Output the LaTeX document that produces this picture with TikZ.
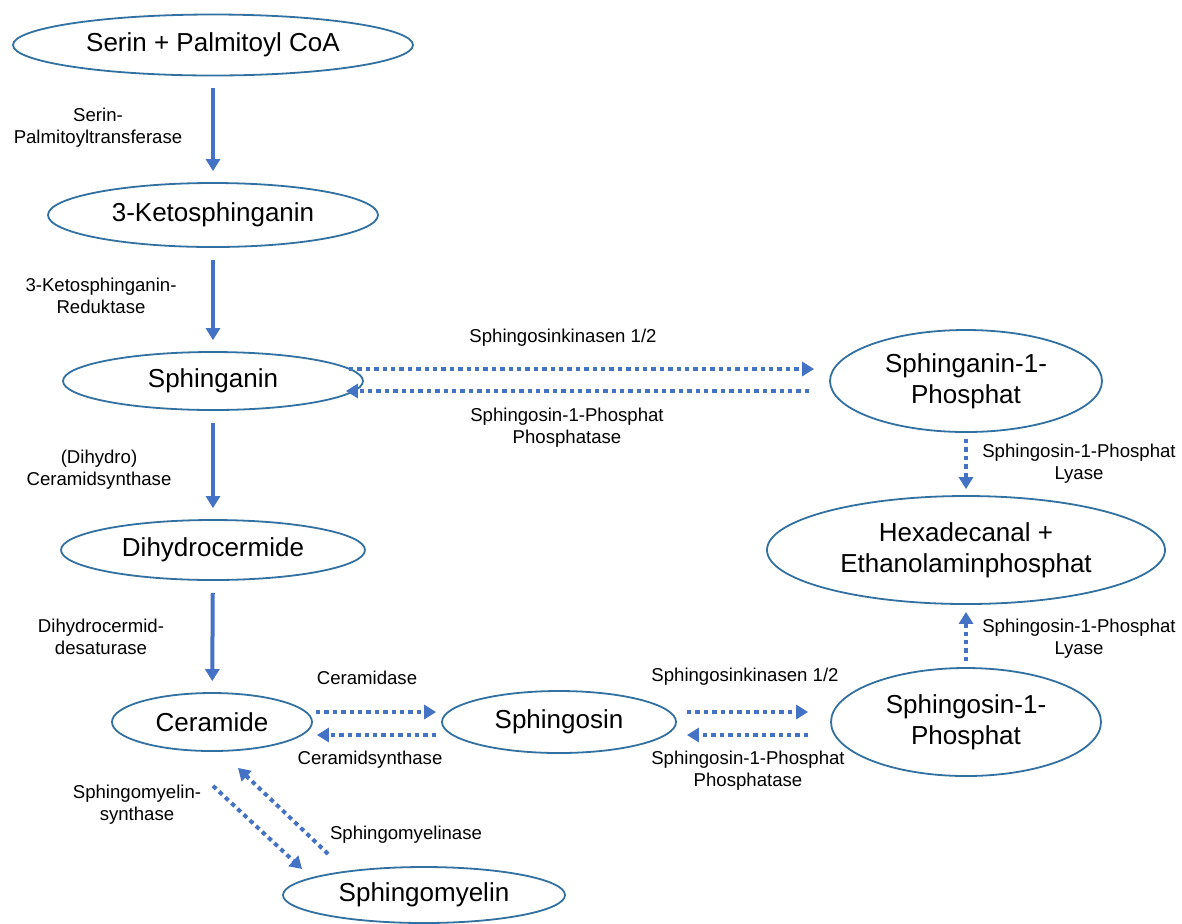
\documentclass[tikz,border=0pt]{standalone}
\usepackage{fontspec}
\setmainfont{Liberation Sans}
\usetikzlibrary{calc, shapes.geometric, arrows.meta}

\definecolor{mblu}{RGB}{68,114,196}
\definecolor{mteal}{RGB}{49,112,160}

\begin{document}
\begin{tikzpicture}[
    x=0.5pt, y=-0.5pt,
    ell/.style={ellipse, draw=mteal, line width=0.9pt, inner sep=0pt, align=center, font=\fontsize{13}{15.5}\selectfont},
    lbl/.style={align=center, inner sep=0pt, font=\fontsize{9.3}{11}\selectfont},
    sarrow/.style={-{Triangle[length=6pt, width=7pt]}, line width=2pt, draw=mblu, shorten <=6pt, shorten >=5.5pt},
    darrow/.style={-{Triangle[length=6pt, width=7pt]}, line width=2pt, draw=mblu, dash pattern=on 2.2pt off 2pt}
]

\useasboundingbox (0,0) rectangle (1182,923);

% main column
\node[ell, minimum width=200pt, minimum height=30.5pt] (serin) at (213,45) {Serin + Palmitoyl CoA};
\node[ell, minimum width=165pt, minimum height=32pt] (keto) at (213,215) {3-Ketosphinganin};
\node[ell, minimum width=150pt, minimum height=29pt] (sphinganin) at (213,381) {Sphinganin};
\node[ell, minimum width=152pt, minimum height=30pt] (dihydro) at (213,550) {Dihydrocermide};
\node[ell, minimum width=100pt, minimum height=29pt] (ceramide) at (212,722) {Ceramide};
\node[ell, minimum width=117pt, minimum height=31pt] (sphingosin) at (559,722) {Sphingosin};
\node[ell, minimum width=141pt, minimum height=28pt] (sphingomyelin) at (424,895) {Sphingomyelin};

% right column
\node[ell, minimum width=136pt, minimum height=51pt] (sa1p) at (966,381) {Sphinganin-1-\\Phosphat};
\node[ell, minimum width=199pt, minimum height=54pt] (hexa) at (966,550) {Hexadecanal +\\Ethanolaminphosphat};
\node[ell, minimum width=135pt, minimum height=54pt] (so1p) at (966,722) {Sphingosin-1-\\Phosphat};

\node[lbl] (lbl_spt) at (98,128) {Serin-\\Palmitoyltransferase};
\node[lbl] (lbl_ksr) at (101,296) {3-Ketosphinganin-\\Reduktase};
\node[lbl] (lbl_cers) at (99,470) {(Dihydro)\\Ceramidsynthase};
\node[lbl] (lbl_des) at (101,637) {Dihydrocermid-\\desaturase};
\node[lbl] (lbl_sk_top) at (563,338) {Sphingosinkinasen 1/2};
\node[lbl] (lbl_spp_top) at (567,428) {Sphingosin-1-Phosphat\\Phosphatase};
\node[lbl] (lbl_lyase_a) at (1079,464) {Sphingosin-1-Phosphat\\Lyase};
\node[lbl] (lbl_lyase_b) at (1079,639) {Sphingosin-1-Phosphat\\Lyase};
\node[lbl] (lbl_cdase) at (367,678) {Ceramidase};
\node[lbl] (lbl_cs) at (370,760) {Ceramidsynthase};
\node[lbl] (lbl_sk_bot) at (745,677) {Sphingosinkinasen 1/2};
\node[lbl] (lbl_spp_bot) at (748,771) {Sphingosin-1-Phosphat\\Phosphatase};
\node[lbl] (lbl_sms) at (137,805) {Sphingomyelin-\\synthase};
\node[lbl] (lbl_smase) at (406,835) {Sphingomyelinase};

\draw[sarrow] (serin) -- (keto);
\draw[sarrow] (keto) -- (sphinganin);
\draw[sarrow] (sphinganin) -- (dihydro);
\draw[sarrow] (dihydro) -- (ceramide);

\draw[darrow] ($(sphinganin.east)+(-15,-12)$) -- ($(sa1p.west)+(-15,-12)$);
\draw[darrow] ($(sa1p.west)+(-20,10)$) -- ($(sphinganin.east)+(-18,10)$);
\draw[darrow] ($(sa1p.south)+(0,6)$) -- ($(hexa.north)+(0,-6)$);
\draw[darrow] ($(so1p.north)+(0,-6)$) -- ($(hexa.south)+(0,7)$);

\draw[darrow] ($(ceramide.east)+(3,-10)$) -- ($(sphingosin.west)+(-5,-10)$);
\draw[darrow] ($(sphingosin.west)+(-5,13)$) -- ($(ceramide.east)+(4,13)$);
\draw[darrow] ($(sphingosin.east)+(10,-10)$) -- ($(so1p.west)+(-22,-10)$);
\draw[darrow] ($(so1p.west)+(-22,13)$) -- ($(sphingosin.east)+(10,13)$);

\draw[darrow] ($(ceramide.south)+(1,34)$) -- ($(sphingomyelin.west)+(20,-26)$);
\draw[darrow] ($(sphingomyelin.west)+(46,-41)$) -- ($(ceramide.south)+(26,16)$);

\end{tikzpicture}
\end{document}
